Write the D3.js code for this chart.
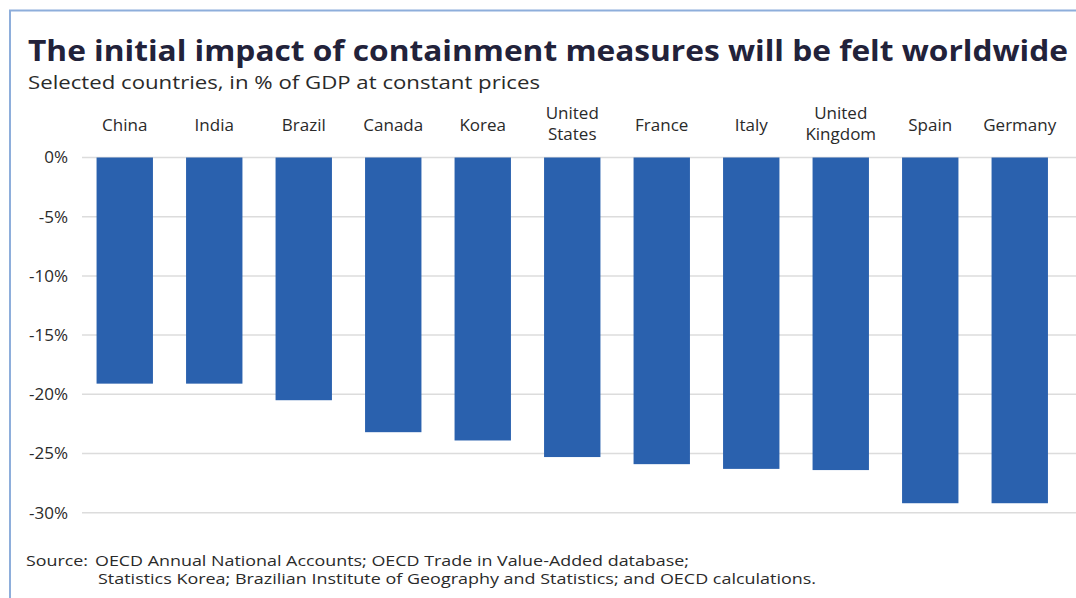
<!DOCTYPE html>
<html>
<head>
<meta charset="utf-8">
<script src="https://cdn.jsdelivr.net/npm/d3@7"></script>
<style>
  html, body { margin: 0; padding: 0; background: #fff; }
  svg { display: block; font-family: "Open Sans", sans-serif; }
</style>
</head>
<body>
<div id="chart"></div>
<script>
// data
const countries = ['China', 'India', 'Brazil', 'Canada', 'Korea', 'United States', 'France', 'Italy', 'United Kingdom', 'Spain', 'Germany'];
const impact = [-19.1, -19.1, -20.5, -23.2, -23.9, -25.3, -25.9, -26.3, -26.4, -29.2, -29.2];
const yTicks = [0, -5, -10, -15, -20, -25, -30];
const labelLines = {
  'United States': ['United', 'States'],
  'United Kingdom': ['United', 'Kingdom']
};
const sourceLines = [
  'OECD Annual National Accounts; OECD Trade in Value-Added database;',
  'Statistics Korea; Brazilian Institute of Geography and Statistics; and OECD calculations.'
];

// settings
const width = 1076;
const height = 598;
const margin = { top: 157.5, left: 80, right: 11.5 };

const svg = d3.select('#chart')
  .append('svg')
  .attr('width', width)
  .attr('height', height);

// frame
svg.append('path')
  .attr('d', `M10,${height} L10,10.5 L${width},10.5`)
  .attr('fill', 'none')
  .attr('stroke', '#8eaedb')
  .attr('stroke-width', 2);

const x = d3.scaleBand()
  .domain(countries)
  .range([margin.left, width - margin.right])
  .paddingInner(0.37)
  .paddingOuter(0.185);

const y = d3.scaleLinear()
  .domain([0, -30])
  .range([margin.top, 512.7]);

// gridlines
svg.append('g')
  .selectAll('line')
  .data(yTicks)
  .join('line')
  .attr('x1', 82)
  .attr('x2', width)
  .attr('y1', d => y(d))
  .attr('y2', d => y(d))
  .attr('stroke', '#dcdcdc')
  .attr('stroke-width', 1.5);

// y axis labels
const yAxis = svg.append('g')
  .attr('transform', 'translate(68,0)')
  .call(d3.axisLeft(y).tickValues(yTicks).tickSize(0).tickPadding(0).tickFormat(d => d + '%'));
yAxis.select('.domain').remove();
yAxis.selectAll('text')
  .attr('font-family', '"Open Sans", sans-serif')
  .attr('font-size', 17)
  .attr('fill', '#2a2a2a');

// bars
svg.append('g')
  .selectAll('rect')
  .data(countries)
  .join('rect')
  .attr('x', d => x(d))
  .attr('width', x.bandwidth())
  .attr('y', y(0))
  .attr('height', (d, i) => y(impact[i]) - y(0))
  .attr('fill', '#2a61ae');

// category labels
const cat = svg.append('g')
  .selectAll('text')
  .data(countries)
  .join('text')
  .attr('x', d => x(d) + x.bandwidth() / 2)
  .attr('text-anchor', 'middle')
  .attr('font-size', 17)
  .attr('fill', '#2a2a2a');
cat.each(function (d) {
  const lines = labelLines[d] || [d];
  const t = d3.select(this);
  const y0 = lines.length === 1 ? 131 : 119;
  lines.forEach((l, i) => {
    t.append('tspan')
      .attr('x', x(d) + x.bandwidth() / 2)
      .attr('y', y0 + i * 21)
      .text(l);
  });
});

// title
svg.append('text')
  .attr('x', 28)
  .attr('y', 61)
  .attr('font-size', 29)
  .attr('font-weight', 700)
  .attr('fill', '#22223a')
  .attr('textLength', 1040)
  .attr('lengthAdjust', 'spacingAndGlyphs')
  .text('The initial impact of containment measures will be felt worldwide');

svg.append('text')
  .attr('x', 28)
  .attr('y', 89)
  .attr('font-size', 18)
  .attr('fill', '#2a2a2a')
  .attr('textLength', 512)
  .attr('lengthAdjust', 'spacingAndGlyphs')
  .text('Selected countries, in % of GDP at constant prices');

// source
svg.append('text')
  .attr('x', 26)
  .attr('y', 566)
  .attr('font-size', 14)
  .attr('fill', '#2a2a2a')
  .attr('textLength', 62)
  .attr('lengthAdjust', 'spacingAndGlyphs')
  .text('Source:');
svg.append('g')
  .selectAll('text')
  .data(sourceLines)
  .join('text')
  .attr('x', (d, i) => i === 0 ? 95 : 98)
  .attr('y', (d, i) => 566 + i * 18)
  .attr('font-size', 14)
  .attr('fill', '#2a2a2a')
  .attr('textLength', (d, i) => i === 0 ? 594 : 718)
  .attr('lengthAdjust', 'spacingAndGlyphs')
  .text(d => d);
</script>
</body>
</html>
